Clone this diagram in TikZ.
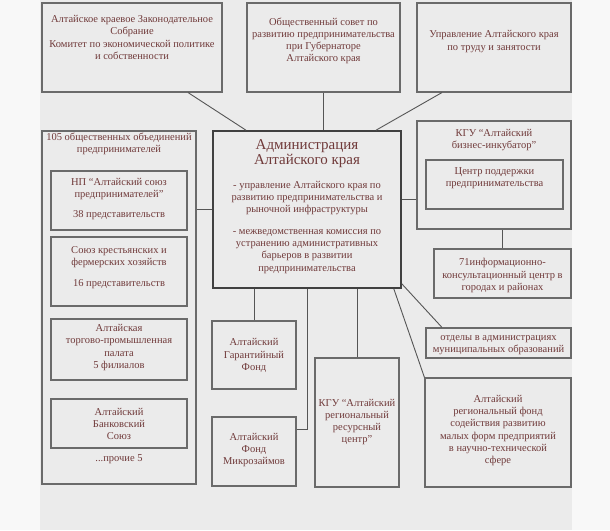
\documentclass[tikz,border=0pt]{standalone}
\usepackage{fontspec}
\setmainfont{Liberation Serif}
\usetikzlibrary{fit,calc}
\definecolor{txt}{HTML}{703A3A}
\definecolor{panel}{HTML}{EBEBEB}
\definecolor{outerbg}{HTML}{F8F8F8}
\definecolor{edgec}{HTML}{6A6A6A}
\definecolor{wirec}{HTML}{555555}
\newcommand\boxat[6]{\node[#1, fit={(#3,#4) (#5,#6)}] (#2) {};}
\begin{document}
\begin{tikzpicture}[x=1pt,y=-1pt,
  box/.style={draw=edgec, line width=1.1pt, fill=panel, inner sep=0pt},
  mainbox/.style={draw=black!75, line width=1.6pt, fill=panel, inner sep=0pt},
  lbl/.style={text=txt, align=center, inner sep=0pt, font=\fontsize{10.5}{12.2}\selectfont},
  ttl/.style={text=txt, align=center, inner sep=0pt, font=\fontsize{15}{12.6}\selectfont},
  wire/.style={draw=wirec, line width=0.9pt}]
\useasboundingbox (0,0) rectangle (610,530);
\fill[outerbg] (0,0) rectangle (610,530);
\fill[panel] (40,0) rectangle (572,530);

% boxes
\boxat{box}{zs}{42}{3}{222}{92}
\boxat{box}{os}{247}{3}{400}{92}
\boxat{box}{ut}{417}{3}{571}{92}
\boxat{mainbox}{adm}{213}{131}{401}{288}
\boxat{box}{obj}{42}{131}{196}{484}
\boxat{box}{np}{51}{171}{187}{230}
\boxat{box}{skfh}{51}{237}{187}{306}
\boxat{box}{tpp}{51}{319}{187}{380}
\boxat{box}{bank}{51}{399}{187}{448}
\boxat{box}{kgubi}{417}{121}{571}{229}
\boxat{box}{cpp}{426}{160}{563}{209}
\boxat{box}{ikc}{434}{249}{571}{298}
\boxat{box}{otd}{426}{328}{571}{358}
\boxat{box}{fund}{425}{378}{571}{487}
\boxat{box}{garant}{212}{321}{296}{389}
\boxat{box}{micro}{212}{417}{296}{486}
\boxat{box}{res}{315}{358}{399}{487}

% connectors
\draw[wire] ([xshift=56pt]zs.south) -- ([xshift=-61pt]adm.north);
\draw[wire] (os.south) -- (os.south |- adm.north);
\draw[wire] ([xshift=-52pt]ut.south) -- ([xshift=69pt]adm.north);
\draw[wire] (adm.west) -- (adm.west -| obj.east);
\draw[wire] ([yshift=10.5pt]adm.east) -- ([yshift=10.5pt]adm.east -| kgubi.west);
\draw[wire] (ikc.north) -- (ikc.north |- kgubi.south);
\draw[wire] ([yshift=5pt]adm.south east) -- ([xshift=-56.5pt]otd.north);
\draw[wire] ([xshift=-8pt]adm.south east) -- (fund.north west);
\draw[wire] (garant.north) -- (garant.north |- adm.south);
\draw[wire] (adm.south) |- ([yshift=22.5pt]micro.east);
\draw[wire] (res.north) -- (res.north |- adm.south);

% labels
\node[lbl] (tzs) at (132,37.5) {Алтайское краевое Законодательное\\Собрание\\Комитет по экономической политике\\и собственности};
\node[lbl] (tos) at (323.5,41) {Общественный совет по\\развитию предпринимательства\\при Губернаторе\\Алтайского края};
\node[lbl] (tut) at (494,41.5) {Управление Алтайского края\\по труду и занятости};
\node[ttl] (tadm) at (307,153.5) {Администрация\\Алтайского края};
\node[lbl] (tadm1) at (307,198) {- управление Алтайского края по\\развитию предпринимательства и\\рыночной инфраструктуры};
\node[lbl] (tadm2) at (307,251.5) {- межведомственная комиссия по\\устранению административных\\барьеров в развитии\\предпринимательства};
\node[lbl] (tobj) at (119,144) {105 общественных объединений\\предпринимателей};
\node[lbl] (tnp) at (119,199) {НП “Алтайский союз\\предпринимателей”\\[8pt]38 представительств};
\node[lbl] (tskfh) at (119,267.5) {Союз крестьянских и\\фермерских хозяйств\\[8pt]16 представительств};
\node[lbl] (ttpp) at (119,347.5) {Алтайская\\торгово-промышленная\\палата\\5 филиалов};
\node[lbl] (tbank) at (119,424) {Алтайский\\Банковский\\Союз};
\node[lbl] (tpro) at (119,459.5) {...прочие 5};
\node[lbl] (tkgubi) at (494,140) {КГУ “Алтайский\\бизнес-инкубатор”};
\node[lbl] (tcpp) at (494.5,178) {Центр поддержки\\предпринимательства};
\node[lbl] (tikc) at (502.5,275.5) {71информационно-\\консультационный центр в\\городах и районах};
\node[lbl] (totd) at (498.5,345.5) {отделы в администрациях\\муниципальных образований};
\node[lbl] (tfund) at (498,430.5) {Алтайский\\региональный фонд\\содействия развитию\\малых форм предприятий\\в научно-технической\\сфере};
\node[lbl] (tgarant) at (254,355.5) {Алтайский\\Гарантийный\\Фонд};
\node[lbl] (tmicro) at (254,450) {Алтайский\\Фонд\\Микрозаймов};
\node[lbl] (tres) at (357,422) {КГУ “Алтайский\\региональный\\ресурсный\\центр”};
\end{tikzpicture}
\end{document}
